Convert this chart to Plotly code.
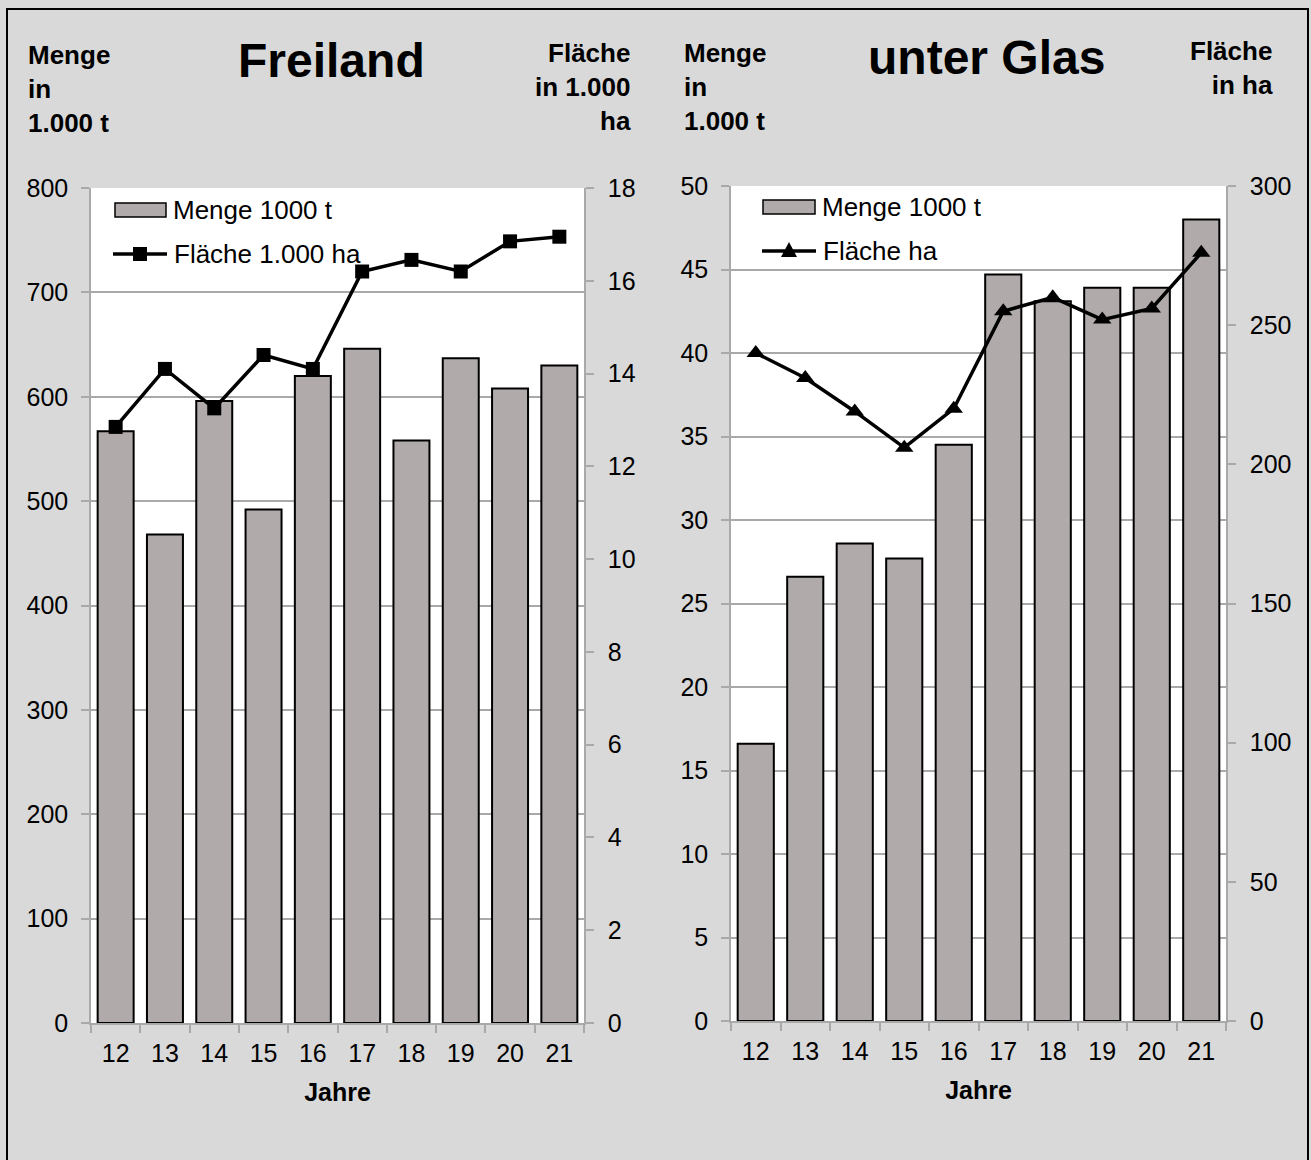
import plotly.graph_objects as go

# Years (two-digit) shown on both category axes
jahre = ["12", "13", "14", "15", "16", "17", "18", "19", "20", "21"]

# Freiland: harvest quantity (1000 t) and area (1000 ha)
freiland_menge = [567, 468, 596, 492, 620, 646, 558, 637, 608, 630]
freiland_flaeche = [12.85, 14.1, 13.25, 14.4, 14.1, 16.2, 16.45, 16.2, 16.85, 16.95]

# unter Glas: harvest quantity (1000 t) and area (ha)
glas_menge = [16.6, 26.6, 28.6, 27.7, 34.5, 44.7, 43.1, 43.9, 43.9, 48.0]
glas_flaeche = [240, 231, 219, 206, 220, 255, 260, 252, 256, 276]

W, H = 1311, 1160
FONT = "Liberation Sans, Arial, sans-serif"
BAR_COLOR = "#b0abaa"
GRID = "#a9a9a9"


def px_x(x):
    return x / W


def px_y(y):
    return 1 - y / H


fig = go.Figure()

# Freiland
fig.add_trace(go.Bar(
    x=jahre, y=freiland_menge, name="Menge 1000 t",
    marker=dict(color=BAR_COLOR, line=dict(color="black", width=2)),
    xaxis="x", yaxis="y",
))
fig.add_trace(go.Scatter(
    x=jahre, y=freiland_flaeche, name="Fläche 1.000 ha", mode="lines+markers",
    line=dict(color="black", width=3.5),
    marker=dict(symbol="square", size=14, color="black"),
    xaxis="x", yaxis="y2",
))

# unter Glas
fig.add_trace(go.Bar(
    x=jahre, y=glas_menge, name="Menge 1000 t",
    marker=dict(color=BAR_COLOR, line=dict(color="black", width=2)),
    xaxis="x2", yaxis="y3",
))
fig.add_trace(go.Scatter(
    x=jahre, y=glas_flaeche, name="Fläche ha", mode="lines+markers",
    line=dict(color="black", width=3.5),
    marker=dict(symbol="triangle-up", size=16, color="black"),
    xaxis="x2", yaxis="y4",
))

tickfont = dict(family=FONT, size=25, color="black")

xcommon = dict(
    type="category", range=[-0.5, len(jahre) - 0.5],
    tickson="boundaries", ticks="outside", ticklen=8,
    tickcolor=GRID, tickwidth=1.5, showline=True, linecolor=GRID, linewidth=1.5,
    showgrid=False, tickfont=tickfont, ticklabelstandoff=7, automargin=False,
    title=dict(text="<b>Jahre</b>", font=dict(family=FONT, size=25, color="black"), standoff=18),
)
yleft = dict(
    ticks="outside", ticklen=8, tickcolor=GRID, tickwidth=1.5,
    showline=True, linecolor=GRID, linewidth=1.5, automargin=False,
    showgrid=True, gridcolor=GRID, gridwidth=1.5, zeroline=False,
    tickfont=tickfont, ticklabelstandoff=8,
)
yright = dict(
    side="right", ticks="outside", ticklen=8, tickcolor=GRID, tickwidth=1.5,
    showline=True, linecolor=GRID, linewidth=1.5, showgrid=False, zeroline=False,
    tickfont=tickfont, ticklabelstandoff=9, automargin=False,
)

fig.update_layout(
    width=W, height=H,
    margin=dict(l=0, r=0, t=0, b=0, autoexpand=False),
    paper_bgcolor="#d9d9d9", plot_bgcolor="white",
    font=dict(family=FONT, color="black"),
    bargap=0.27,
    showlegend=False,
    xaxis=dict(domain=[px_x(91), px_x(584)], anchor="y", **xcommon),
    yaxis=dict(domain=[px_y(1023), px_y(188)], anchor="x", range=[0, 800], dtick=100, **yleft),
    yaxis2=dict(overlaying="y", anchor="x", range=[0, 18], dtick=2, **yright),
    xaxis2=dict(domain=[px_x(731), px_x(1226)], anchor="y3", **xcommon),
    yaxis3=dict(domain=[px_y(1021), px_y(186)], anchor="x2", range=[0, 50], dtick=5, **yleft),
    yaxis4=dict(overlaying="y3", anchor="x2", range=[0, 300], dtick=50, **yright),
)

# Outer frame
fig.add_shape(type="rect", xref="paper", yref="paper",
              x0=px_x(7), x1=px_x(1308), y0=px_y(1170), y1=px_y(9),
              line=dict(color="black", width=2), fillcolor="rgba(0,0,0,0)", layer="below")

small = dict(family=FONT, size=26, color="black")
big = dict(family=FONT, size=48, color="black")
legfont = dict(family=FONT, size=26, color="black")


def note(text, x, y, xanchor, font, align="left", yanchor="top"):
    fig.add_annotation(text=text, x=px_x(x), y=px_y(y), xref="paper", yref="paper",
                       xanchor=xanchor, yanchor=yanchor, showarrow=False,
                       font=font, align=align)


note("<b>Menge<br>in<br>1.000 t</b>", 26, 38, "left", small)
note("<b>Freiland</b>", 331, 32, "center", big)
note("<b>Fläche<br>in 1.000<br>ha</b>", 633, 36, "right", small, align="right")

note("<b>Menge<br>in<br>1.000 t</b>", 682, 36, "left", small)
note("<b>unter Glas</b>", 986, 29, "center", big)
note("<b>Fläche<br>in ha</b>", 1275, 34, "right", small, align="right")


# Legend entries drawn inside each plot area
def legend_bar(x0, x1, y0, y1, label):
    fig.add_shape(type="rect", xref="paper", yref="paper",
                  x0=px_x(x0), x1=px_x(x1), y0=px_y(y1), y1=px_y(y0),
                  line=dict(color="black", width=1.5), fillcolor=BAR_COLOR, layer="above")
    note(label, x1 + 5, (y0 + y1) / 2, "left", legfont, yanchor="middle")


def legend_line(x0, x1, y, symbol, label):
    fig.add_shape(type="line", xref="paper", yref="paper",
                  x0=px_x(x0), x1=px_x(x1), y0=px_y(y), y1=px_y(y),
                  line=dict(color="black", width=3.5), layer="above")
    cx = (x0 + x1) / 2
    if symbol == "square":
        fig.add_shape(type="rect", xref="paper", yref="paper",
                      x0=px_x(cx - 7), x1=px_x(cx + 7), y0=px_y(y + 7), y1=px_y(y - 7),
                      line=dict(color="black", width=0), fillcolor="black", layer="above")
    else:
        path = "M {:.5f} {:.5f} L {:.5f} {:.5f} L {:.5f} {:.5f} Z".format(
            px_x(cx - 8), px_y(y + 6), px_x(cx + 8), px_y(y + 6), px_x(cx), px_y(y - 9))
        fig.add_shape(type="path", xref="paper", yref="paper", path=path,
                      line=dict(color="black", width=0), fillcolor="black", layer="above")
    note(label, x1 + 5, y, "left", legfont, yanchor="middle")


legend_bar(115, 166, 203, 217, "Menge 1000 t")
legend_line(113, 167, 254, "square", "Fläche 1.000 ha")

legend_bar(763, 815, 200, 214, "Menge 1000 t")
legend_line(762, 816, 251, "triangle", "Fläche ha")

fig.write_html("out.html")
